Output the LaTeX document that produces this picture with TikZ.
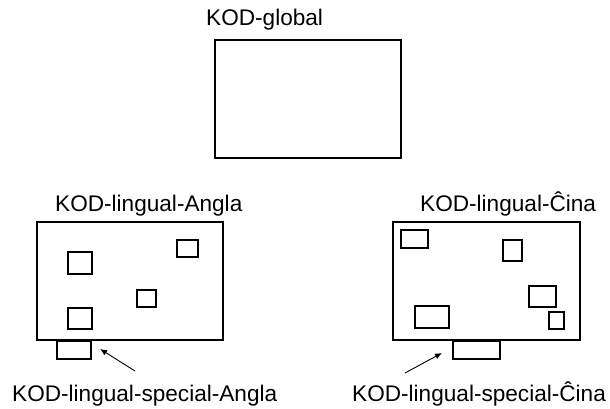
\documentclass[tikz,border=0pt]{standalone}
\usepackage{fontspec}
\setmainfont{Liberation Sans}
\usetikzlibrary{positioning,arrows.meta}

\tikzset{
  kod/.style={draw, line width=1.6pt, inner sep=0pt},
  txt/.style={inner sep=0pt, anchor=base west, font=\fontsize{22.6}{26}\selectfont},
  pointer/.style={-{Latex[length=7pt,width=6pt]}, line width=0.9pt}
}

\begin{document}
\begin{tikzpicture}[x=1pt, y=1pt]
    \useasboundingbox (0,0) rectangle (610,409);

    % global
    \node[kod, minimum width=186pt, minimum height=118pt] (global) at (308,310) {};
    \node[txt] (globaltxt) at (206,383) {KOD-global};

    % Angla
    \node[kod, minimum width=186pt, minimum height=118pt] (angla) at (130,128) {};
    \node[txt] (anglatxt) at (55,197) {KOD-lingual-Angla};
    \node[kod, minimum width=24pt, minimum height=22pt] (a1) at (80,146) {};
    \node[kod, minimum width=21pt, minimum height=17pt] (a2) at (187.5,160.5) {};
    \node[kod, minimum width=19pt, minimum height=17pt] (a3) at (146.5,110.5) {};
    \node[kod, minimum width=24pt, minimum height=21pt] (a4) at (80,90.5) {};
    \node[kod, minimum width=34pt, minimum height=18pt, anchor=north] (anglasp) at (74,69) {};
    \node[txt] (anglasptxt) at (12,7) {KOD-lingual-special-Angla};
    \coordinate (anglafrom) at (135,38);
    \coordinate (anglato) at (100,60);

    % Cina
    \node[kod, minimum width=187pt, minimum height=118pt] (cina) at (486.5,128) {};
    \node[txt] (cinatxt) at (420,197) {KOD-lingual-Ĉina};
    \node[kod, minimum width=27pt, minimum height=18pt] (b1) at (414.5,170) {};
    \node[kod, minimum width=19pt, minimum height=21pt] (b2) at (512.5,158.5) {};
    \node[kod, minimum width=27pt, minimum height=21pt] (b3) at (542.5,112.5) {};
    \node[kod, minimum width=34pt, minimum height=22pt] (b4) at (432,92) {};
    \node[kod, minimum width=15pt, minimum height=17pt] (b5) at (556.5,88.5) {};
    \node[kod, minimum width=47pt, minimum height=18pt, anchor=north] (cinasp) at (476.5,69) {};
    \node[txt] (cinasptxt) at (352,7) {KOD-lingual-special-Ĉina};
    \coordinate (cinafrom) at (405,36);
    \coordinate (cinato) at (442,56);

    \draw[pointer] (anglafrom) -- (anglato);
    \draw[pointer] (cinafrom) -- (cinato);
\end{tikzpicture}
\end{document}
